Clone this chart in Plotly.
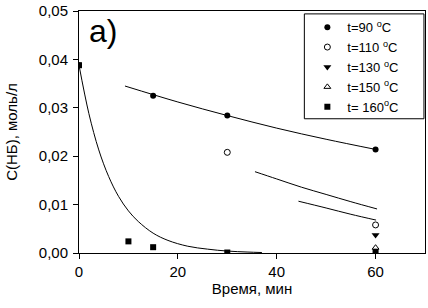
import plotly.graph_objects as go

# measured points
t90_x = [0, 15, 30, 60]
t90_y = [0.0388, 0.0325, 0.0284, 0.0214]
t110_x = [30, 60]
t110_y = [0.0208, 0.0058]
t130_x = [60]
t130_y = [0.0037]
t150_x = [60]
t150_y = [0.0011]
t160_x = [0, 10, 15, 30, 60]
t160_y = [0.0388, 0.0024, 0.0012, 0.0001, 0.0002]

# fitted curves
fit90_x = [9.3, 20, 30, 40, 50, 60]
fit90_y = [0.0345, 0.0312, 0.0284, 0.0258, 0.0235, 0.0214]
fit160_x = [0, 2, 4, 6, 8, 10, 12, 15, 18, 22, 26, 30, 34, 37]
fit160_y = [0.0388, 0.0288, 0.0213, 0.0158, 0.0117, 0.0087, 0.0065, 0.0041,
            0.0026, 0.0014, 0.0008, 0.0004, 0.0002, 0.0001]
fitA_x = [35.6, 40, 45, 50, 55, 60.3]
fitA_y = [0.0168, 0.0153, 0.0136, 0.0121, 0.0106, 0.0091]
fitB_x = [44.4, 50, 55, 60.1]
fitB_y = [0.0107, 0.0093, 0.0080, 0.0068]

x_ticks = [0, 20, 40, 60]
y_ticks = [0, 0.01, 0.02, 0.03, 0.04, 0.05]

legend_names = ["t=90 <sup>o</sup>C", "t=110 <sup>o</sup>C", "t=130 <sup>o</sup>C",
                "t=150 <sup>o</sup>C", "t= 160<sup>o</sup>C"]

fig = go.Figure()
for fx, fy in [(fit90_x, fit90_y), (fit160_x, fit160_y), (fitA_x, fitA_y), (fitB_x, fitB_y)]:
    fig.add_trace(go.Scatter(x=fx, y=fy, mode="lines", line=dict(color="black", width=1, shape="spline"),
                             showlegend=False, hoverinfo="skip"))

fig.add_trace(go.Scatter(x=t90_x, y=t90_y, mode="markers", name=legend_names[0],
                         marker=dict(symbol="circle", size=6, color="black")))
fig.add_trace(go.Scatter(x=t110_x, y=t110_y, mode="markers", name=legend_names[1],
                         marker=dict(symbol="circle-open", size=6, color="black", line=dict(width=1))))
fig.add_trace(go.Scatter(x=t130_x, y=t130_y, mode="markers", name=legend_names[2],
                         marker=dict(symbol="triangle-down", size=7, color="black")))
fig.add_trace(go.Scatter(x=t150_x, y=t150_y, mode="markers", name=legend_names[3],
                         marker=dict(symbol="triangle-up-open", size=6, color="black", line=dict(width=1))))
fig.add_trace(go.Scatter(x=t160_x, y=t160_y, mode="markers", name=legend_names[4],
                         marker=dict(symbol="square", size=6, color="black")))

axis_common = dict(showline=True, linecolor="black", linewidth=1, mirror=True,
                   ticks="outside", ticklen=5, tickcolor="black", showgrid=False, zeroline=False,
                   ticklabeloverflow="allow", tickfont=dict(size=15, color="black"))

fig.update_layout(
    width=428, height=308,
    margin=dict(l=79, r=2, t=6, b=55),
    paper_bgcolor="white", plot_bgcolor="white",
    font=dict(family="Liberation Sans, Arial, sans-serif", color="black", size=15),
    separators=", ",
    xaxis=dict(range=[0, 70], tickvals=x_ticks,
               title=dict(text="Время, мин", font=dict(size=15), standoff=2), **axis_common),
    yaxis=dict(range=[0, 0.0500001], tickvals=y_ticks, tickformat=".2f", ticklabelstandoff=2,
               title=dict(text="С(НБ), моль/л", font=dict(size=15), standoff=17), **axis_common),
    legend=dict(x=0.66, y=0.995, xanchor="left", yanchor="top", bgcolor="rgba(0,0,0,0)",
                borderwidth=0, font=dict(size=13), tracegroupgap=0, itemwidth=30),
    shapes=[dict(type="rect", xref="paper", yref="paper", x0=0.6513, x1=0.997, y0=0.5547, y1=0.988,
                 line=dict(color="black", width=1), fillcolor="white", layer="below")],
    annotations=[dict(text="а)", x=0.023, y=1.0, xref="paper", yref="paper",
                      xanchor="left", yanchor="top", showarrow=False,
                      font=dict(size=32, color="black"))],
)

fig.write_html("out.html", config={"displayModeBar": False},
               post_script="document.body.style.margin='0';document.body.style.padding='0';")
